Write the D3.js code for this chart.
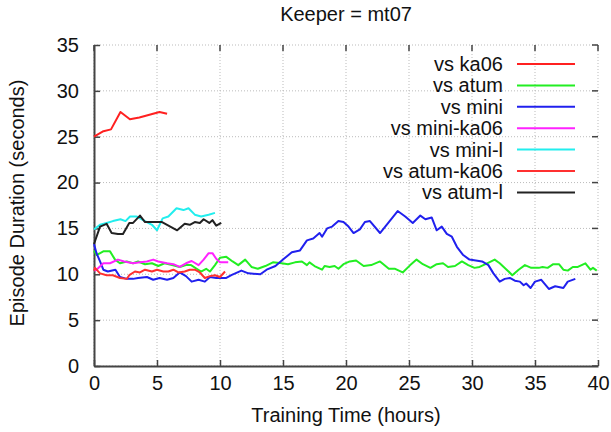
<!DOCTYPE html>
<html>
<head>
<meta charset="utf-8">
<script src="https://cdn.jsdelivr.net/npm/d3@7"></script>
<style>
  body { margin: 0; background: #fff; }
  svg text { font-family: "Liberation Sans", Arial, sans-serif; fill: #111; }
</style>
</head>
<body>
<svg width="611" height="432"></svg>
<script>
// hours / seconds
var ka06T = [0, 0.75, 1.35, 2.1, 2.85, 3.6, 4.4, 5.2, 5.8];
var ka06V = [25.0, 25.6, 25.8, 27.7, 26.9, 27.1, 27.4, 27.7, 27.5];

var atumT = [0, 0.2, 0.74, 1.27, 1.67, 2.06, 2.6, 3.1, 3.5, 4.05, 4.6, 5.1, 5.6, 6.2, 6.8, 7.3, 7.7, 8.15, 8.5, 8.9, 9.2, 9.6, 10.0, 10.5, 11.0, 11.45, 12.0, 12.5, 13.0, 13.6, 14.2, 14.9, 15.4, 15.95, 16.5, 16.9, 17.1, 17.5, 18.1, 18.3, 18.7, 19.1, 19.4, 19.8, 20.3, 20.8, 21.4, 22.0, 22.7, 23.4, 23.9, 24.5, 25.1, 25.6, 26.1, 26.7, 27.2, 27.7, 28.1, 28.65, 29.2, 29.7, 30.2, 30.6, 31.2, 31.8, 32.2, 32.75, 33.2, 33.7, 34.2, 34.7, 35.3, 35.6, 36.0, 36.45, 36.9, 37.25, 37.6, 38.0, 38.4, 39.0, 39.4, 39.6, 39.9];
var atumV = [12.6, 12.1, 12.5, 12.5, 11.6, 11.2, 11.4, 11.2, 11.4, 11.1, 11.2, 10.9, 11.2, 11.0, 10.8, 11.0, 11.0, 10.6, 10.3, 10.6, 10.3, 11.0, 11.8, 11.9, 11.4, 11.0, 11.6, 10.8, 10.6, 10.9, 11.3, 11.2, 11.1, 11.3, 11.4, 11.0, 11.3, 10.9, 10.5, 10.9, 10.8, 10.9, 10.6, 11.1, 11.4, 11.5, 10.9, 11.0, 11.4, 10.6, 10.6, 10.2, 11.0, 11.6, 11.1, 10.7, 11.1, 11.2, 10.8, 10.9, 11.4, 11.0, 10.7, 10.8, 11.2, 11.6, 11.2, 10.5, 9.9, 10.5, 11.0, 10.7, 10.7, 10.8, 10.7, 11.1, 11.1, 10.5, 10.4, 10.8, 10.8, 11.2, 10.5, 10.7, 10.4];

var miniT = [0, 0.2, 0.48, 0.74, 1.1, 1.7, 2.06, 2.6, 3.1, 3.5, 4.2, 4.7, 5.2, 5.8, 6.3, 6.8, 7.3, 7.75, 8.3, 8.8, 9.2, 9.7, 10.5, 10.9, 11.7, 12.25, 13.2, 13.7, 14.4, 15.0, 15.7, 16.35, 16.9, 17.4, 17.9, 18.1, 18.5, 18.9, 19.4, 19.8, 20.2, 20.6, 21.1, 21.5, 21.9, 22.7, 23.4, 24.1, 24.7, 25.3, 25.9, 26.3, 26.8, 27.2, 27.6, 28.0, 28.4, 28.8, 29.3, 29.8, 30.8, 31.3, 31.7, 32.2, 32.6, 33.0, 33.4, 33.8, 34.1, 34.3, 34.65, 35.0, 35.5, 36.1, 36.6, 37.25, 37.6, 38.2];
var miniV = [13.3, 12.3, 11.4, 10.5, 10.3, 10.5, 9.7, 9.5, 9.5, 9.6, 9.7, 9.4, 9.6, 9.4, 9.6, 10.2, 9.8, 9.2, 9.4, 9.2, 9.7, 9.6, 9.6, 9.9, 10.4, 10.1, 10.0, 10.5, 10.9, 11.6, 12.4, 12.6, 13.7, 13.9, 14.5, 14.1, 15.0, 15.2, 15.8, 15.7, 15.2, 14.5, 14.9, 15.7, 15.8, 14.5, 15.7, 16.9, 16.3, 15.6, 16.4, 16.0, 16.2, 14.8, 15.2, 14.4, 14.1, 13.0, 12.1, 11.6, 11.4, 11.0, 10.1, 9.2, 9.5, 9.6, 9.3, 9.2, 8.8, 9.0, 8.5, 9.2, 9.4, 8.4, 8.7, 8.5, 9.2, 9.5];

var miniKa06T = [0, 0.2, 0.74, 1.27, 1.9, 2.4, 3.1, 3.65, 4.2, 4.7, 5.1, 5.8, 6.3, 6.8, 7.3, 7.75, 8.3, 8.7, 9.1, 9.4, 9.7, 10.0, 10.65];
var miniKa06V = [10.4, 10.5, 11.2, 11.2, 11.6, 11.4, 11.2, 11.3, 11.4, 11.6, 11.4, 11.2, 11.1, 10.8, 11.2, 11.45, 11.0, 11.6, 12.3, 12.3, 11.7, 11.3, 11.3];

var miniLT = [0, 0.48, 1.0, 1.5, 2.1, 2.5, 2.86, 3.4, 4.05, 4.6, 5.0, 5.45, 5.9, 6.55, 7.1, 7.5, 8.0, 8.5, 9.1, 9.6];
var miniLV = [14.9, 15.4, 15.6, 15.8, 16.0, 15.8, 16.3, 16.3, 15.8, 15.4, 14.8, 16.1, 16.3, 17.2, 17.0, 17.2, 16.5, 16.3, 16.5, 16.7];

var atumKa06T = [0, 0.08, 0.48, 1.0, 1.5, 2.06, 2.6, 2.8, 3.25, 3.65, 4.05, 4.6, 5.0, 5.5, 5.9, 6.3, 6.7, 7.2, 7.6, 8.0, 8.4, 8.8, 9.2, 9.6, 10.0, 10.4];
var atumKa06V = [10.4, 10.7, 10.1, 9.9, 9.9, 9.6, 9.5, 9.9, 10.3, 10.2, 10.5, 10.3, 10.5, 10.3, 10.3, 10.5, 10.2, 10.3, 10.5, 10.5, 10.2, 9.6, 9.8, 9.9, 9.7, 10.3];

var atumLT = [0, 0.48, 1.0, 1.4, 1.9, 2.3, 2.8, 3.1, 3.65, 4.05, 5.4, 5.8, 6.6, 7.2, 7.6, 8.0, 8.4, 8.7, 9.15, 9.4, 9.7, 10.1];
var atumLV = [13.3, 15.2, 15.5, 14.5, 14.4, 14.4, 15.6, 15.6, 16.4, 15.7, 15.7, 15.4, 14.8, 15.5, 15.4, 15.7, 15.6, 16.0, 15.6, 15.9, 15.3, 15.6];

var names = ["vs ka06", "vs atum", "vs mini", "vs mini-ka06", "vs mini-l", "vs atum-ka06", "vs atum-l"];
var colors = ["#ff2020", "#22ee22", "#2020ee", "#ff22ff", "#22eeee", "#ff3030", "#222222"];
var times = [ka06T, atumT, miniT, miniKa06T, miniLT, atumKa06T, atumLT];
var values = [ka06V, atumV, miniV, miniKa06V, miniLV, atumKa06V, atumLV];

var xTicks = [0, 5, 10, 15, 20, 25, 30, 35, 40];
var yTicks = [0, 5, 10, 15, 20, 25, 30, 35];

var svg = d3.select("svg"),
    margin = {top: 45, right: 13, bottom: 66, left: 94},
    width = +svg.attr("width") - margin.left - margin.right,
    height = +svg.attr("height") - margin.top - margin.bottom,
    g = svg.append("g").attr("transform", "translate(" + margin.left + "," + margin.top + ")");

var x = d3.scaleLinear().domain([0, 40]).range([0, width]);
var y = d3.scaleLinear().domain([0, 35]).range([height, 0]);

// grid
g.append("g").selectAll("line")
  .data(xTicks).enter().append("line")
    .attr("x1", x).attr("x2", x).attr("y1", 0).attr("y2", height)
    .attr("stroke", "#bbb").attr("stroke-width", 1).attr("stroke-dasharray", "1,2");
g.append("g").selectAll("line")
  .data(yTicks).enter().append("line")
    .attr("y1", y).attr("y2", y).attr("x1", 0).attr("x2", width)
    .attr("stroke", "#bbb").attr("stroke-width", 1).attr("stroke-dasharray", "1,2");

// mirror ticks (top, right)
g.append("g").selectAll("line")
  .data(xTicks).enter().append("line")
    .attr("x1", x).attr("x2", x).attr("y1", 0).attr("y2", 6)
    .attr("stroke", "#444").attr("stroke-width", 1.5);
g.append("g").selectAll("line")
  .data(yTicks).enter().append("line")
    .attr("y1", y).attr("y2", y).attr("x1", width).attr("x2", width - 6)
    .attr("stroke", "#444").attr("stroke-width", 1.5);

// axes
var xAxis = g.append("g")
  .attr("transform", "translate(0," + height + ")")
  .call(d3.axisBottom(x).tickValues(xTicks).tickSize(-6).tickPadding(10).tickSizeOuter(0));
var yAxis = g.append("g")
  .call(d3.axisLeft(y).tickValues(yTicks).tickSize(-6).tickPadding(15).tickSizeOuter(0));
[xAxis, yAxis].forEach(function (a) {
  a.select(".domain").attr("stroke", "#444").attr("stroke-width", 2);
  a.selectAll(".tick line").attr("stroke", "#444").attr("stroke-width", 1.5);
  a.selectAll(".tick text").attr("font-size", 20).attr("font-family", "Liberation Sans, Arial, sans-serif").attr("fill", "#111");
});

// series
var line = d3.line()
  .x(function (d) { return x(d[0]); })
  .y(function (d) { return y(d[1]); });

g.append("g").selectAll("path")
  .data(names.map(function (n, i) {
    return { name: n, color: colors[i], pts: times[i].map(function (t, j) { return [t, values[i][j]]; }) };
  }))
  .enter().append("path")
    .attr("fill", "none")
    .attr("stroke", function (d) { return d.color; })
    .attr("stroke-width", 2)
    .attr("stroke-linejoin", "round")
    .attr("d", function (d) { return line(d.pts); });

// legend
var legend = g.append("g")
  .selectAll("g")
  .data(names)
  .enter().append("g")
    .attr("transform", function (d, i) { return "translate(0," + (19 + i * 21.4) + ")"; });

legend.append("text")
  .attr("x", 409)
  .attr("dy", "0.35em")
  .attr("text-anchor", "end")
  .attr("font-size", 20)
  .text(function (d) { return d; });

legend.append("line")
  .attr("x1", 423).attr("x2", 481)
  .attr("stroke", function (d, i) { return colors[i]; })
  .attr("stroke-width", 2);

// titles
svg.append("text")
  .attr("x", margin.left + width / 2).attr("y", 21)
  .attr("text-anchor", "middle").attr("font-size", 20)
  .text("Keeper = mt07");

svg.append("text")
  .attr("x", margin.left + width / 2).attr("y", 422)
  .attr("text-anchor", "middle").attr("font-size", 20)
  .text("Training Time (hours)");

svg.append("text")
  .attr("transform", "translate(24,203) rotate(-90)")
  .attr("text-anchor", "middle").attr("font-size", 20)
  .text("Episode Duration (seconds)");
</script>
</body>
</html>
